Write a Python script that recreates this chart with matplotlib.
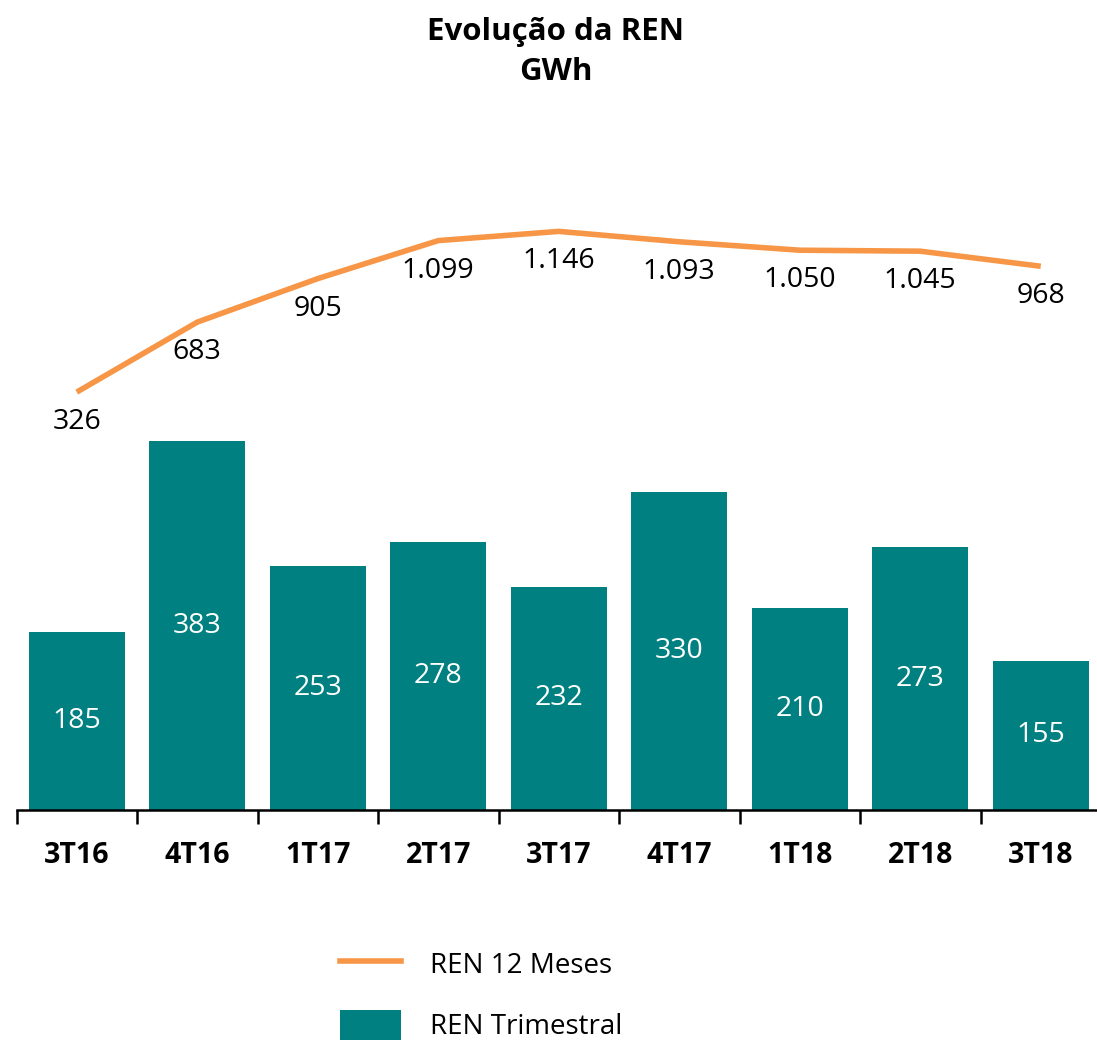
import matplotlib
matplotlib.use("Agg")
import matplotlib.pyplot as plt
from matplotlib.lines import Line2D
from matplotlib.patches import Patch

plt.rcParams["font.family"] = ["Open Sans", "DejaVu Sans"]

# ── data ────────────────────────────────────────────────────────────
quarters = ["3T16", "4T16", "1T17", "2T17", "3T17", "4T17", "1T18", "2T18", "3T18"]
ren_trimestral = [185, 383, 253, 278, 232, 330, 210, 273, 155]
ren_12m = [326, 683, 905, 1099, 1146, 1093, 1050, 1045, 968]
ren_12m_labels = ["326", "683", "905", "1.099", "1.146", "1.093", "1.050", "1.045", "968"]

TEAL = "#008080"
ORANGE = "#F79646"

W, H = 1097, 1042
fig = plt.figure(figsize=(W / 100, H / 100), dpi=100)

# axes spans pixel rows 200..810, columns 16.5..1101
top_px, base_px = 200, 810
left_px, right_px = 16.5, 1101
ax = fig.add_axes([left_px / W, 1 - base_px / H,
                   (right_px - left_px) / W, (base_px - top_px) / H])
x = list(range(len(quarters)))

ax.bar(x, ren_trimestral, width=0.8, color=TEAL, zorder=2)
ax.set_xlim(-0.5, len(quarters) - 0.5)
ax.set_ylim(0, (base_px - top_px) / 0.9625)
for xi, v in zip(x, ren_trimestral):
    ax.text(xi, v / 2, str(v), ha="center", va="center",
            color="white", fontsize=20.5)

# secondary scale for the 12-month line
ax2 = ax.twinx()
px_per_unit = 0.196
zero_px = 456
ax2.set_ylim((zero_px - base_px) / px_per_unit, (zero_px - top_px) / px_per_unit)
ax2.plot(x, ren_12m, color=ORANGE, lw=4, solid_capstyle="butt", zorder=3)
for xi, v, lab in zip(x, ren_12m, ren_12m_labels):
    ax2.annotate(lab, (xi, v), xytext=(0, -30), textcoords="offset pixels",
                 ha="center", va="center", fontsize=20.5, color="black")

for a in (ax, ax2):
    for s in ("top", "right", "left"):
        a.spines[s].set_visible(False)
    a.set_yticks([])
ax2.spines["bottom"].set_visible(False)
ax.spines["bottom"].set_linewidth(1.8)
ax.spines["bottom"].set_zorder(4)

ax.set_xticks(x)
ax.set_xticklabels(quarters, fontsize=20.5, fontweight="bold")
ax.tick_params(axis="x", which="major", length=0, pad=22)
ax.set_xticks([i - 0.5 for i in range(len(quarters) + 1)], minor=True)
ax.tick_params(axis="x", which="minor", length=10, width=1.8, direction="out")

fig.text(556 / W, 1 - 52 / H, "Evolução da REN\nGWh", ha="center", va="center",
         fontsize=22.5, fontweight="bold", linespacing=1.45)

handles = [Line2D([0], [0], color=ORANGE, lw=4),
           Patch(facecolor=TEAL)]
fig.legend(handles, ["REN 12 Meses", "REN Trimestral"],
           loc="upper left", bbox_to_anchor=(340 / W, 1 - 949 / H),
           frameon=False, fontsize=20, handlelength=2.2, handleheight=1.3,
           handletextpad=1.05, labelspacing=1.05, borderpad=0, borderaxespad=0)

fig.savefig("out.png", dpi=100)
